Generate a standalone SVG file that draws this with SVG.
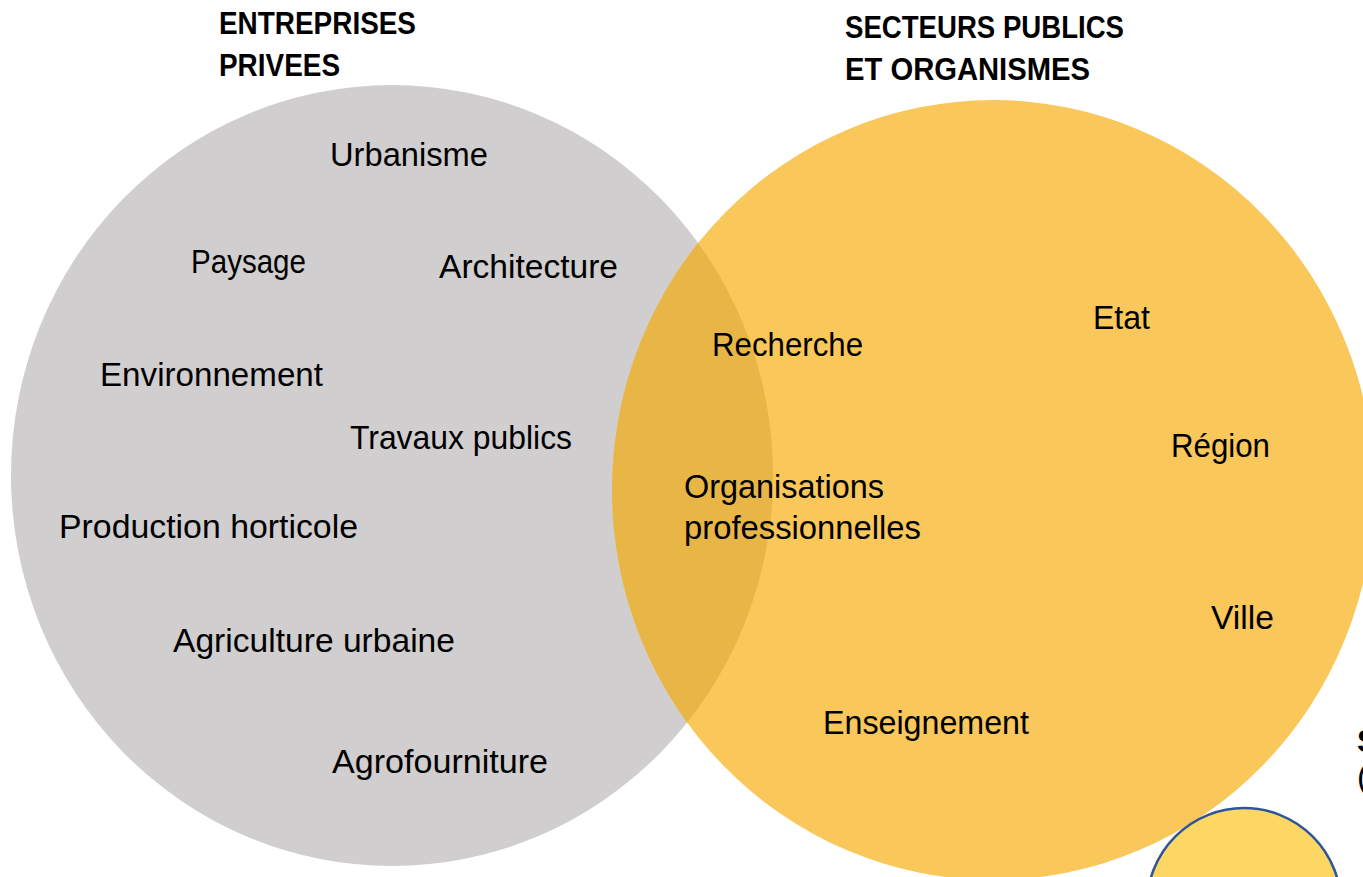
<svg xmlns="http://www.w3.org/2000/svg" width="1363" height="877" viewBox="0 0 1363 877">
  <style>
    .lbl { font-family: "Liberation Sans", Arial, sans-serif; font-size: 33px; fill: #000; }
    .ttl { font-family: "Liberation Sans", Arial, sans-serif; font-size: 31px; font-weight: bold; fill: #000; }
  </style>
  <defs>
    <clipPath id="grayClip">
      <ellipse cx="392" cy="475.5" rx="381" ry="390.5"/>
    </clipPath>
  </defs>
  <rect width="1363" height="877" fill="#ffffff"/>

  <g id="circle-privees">
    <ellipse cx="392" cy="475.5" rx="381" ry="390.5" fill="#D0CECE"/>
  </g>
  <g id="circle-publics">
    <ellipse cx="993" cy="490" rx="381" ry="390" fill="#F9C75A"/>
    <ellipse cx="993" cy="490" rx="381" ry="390" fill="#E8B646" clip-path="url(#grayClip)"/>
  </g>
  <g id="circle-small">
    <circle cx="1244" cy="905" r="97" fill="#FDD764" stroke="#2F5597" stroke-width="2.5"/>
  </g>

  <g id="title-privees">
    <text class="ttl" x="219" y="34" textLength="197" lengthAdjust="spacingAndGlyphs">ENTREPRISES</text>
    <text class="ttl" x="219" y="76" textLength="121" lengthAdjust="spacingAndGlyphs">PRIVEES</text>
  </g>
  <g id="title-publics">
    <text class="ttl" x="845" y="38" textLength="279" lengthAdjust="spacingAndGlyphs">SECTEURS PUBLICS</text>
    <text class="ttl" x="845" y="80" textLength="245" lengthAdjust="spacingAndGlyphs">ET ORGANISMES</text>
  </g>

  <g id="n-urbanisme"><text class="lbl" x="330" y="166" textLength="158" lengthAdjust="spacingAndGlyphs">Urbanisme</text></g>
  <g id="n-paysage"><text class="lbl" x="191" y="273" textLength="115" lengthAdjust="spacingAndGlyphs">Paysage</text></g>
  <g id="n-architecture"><text class="lbl" x="439" y="278" textLength="179" lengthAdjust="spacingAndGlyphs">Architecture</text></g>
  <g id="n-environnement"><text class="lbl" x="100" y="386" textLength="223" lengthAdjust="spacingAndGlyphs">Environnement</text></g>
  <g id="n-travaux"><text class="lbl" x="350" y="449" textLength="222" lengthAdjust="spacingAndGlyphs">Travaux publics</text></g>
  <g id="n-production"><text class="lbl" x="59" y="538" textLength="299" lengthAdjust="spacingAndGlyphs">Production horticole</text></g>
  <g id="n-agriculture"><text class="lbl" x="173" y="652" textLength="282" lengthAdjust="spacingAndGlyphs">Agriculture urbaine</text></g>
  <g id="n-agrofourniture"><text class="lbl" x="332" y="773" textLength="216" lengthAdjust="spacingAndGlyphs">Agrofourniture</text></g>

  <g id="n-recherche"><text class="lbl" x="712" y="356" textLength="151" lengthAdjust="spacingAndGlyphs">Recherche</text></g>
  <g id="n-organisations">
    <text class="lbl" x="684" y="498" textLength="200" lengthAdjust="spacingAndGlyphs">Organisations</text>
    <text class="lbl" x="684" y="539" textLength="237" lengthAdjust="spacingAndGlyphs">professionnelles</text>
  </g>
  <g id="n-enseignement"><text class="lbl" x="823" y="734" textLength="206" lengthAdjust="spacingAndGlyphs">Enseignement</text></g>

  <g id="n-etat"><text class="lbl" x="1093" y="329" textLength="57" lengthAdjust="spacingAndGlyphs">Etat</text></g>
  <g id="n-region"><text class="lbl" x="1171" y="457" textLength="99" lengthAdjust="spacingAndGlyphs">Région</text></g>
  <g id="n-ville"><text class="lbl" x="1211" y="629" textLength="63" lengthAdjust="spacingAndGlyphs">Ville</text></g>

  <g id="partial-label">
    <text class="ttl" x="1357" y="752">S</text>
    <text class="lbl" x="1357" y="788">(</text>
  </g>
</svg>
